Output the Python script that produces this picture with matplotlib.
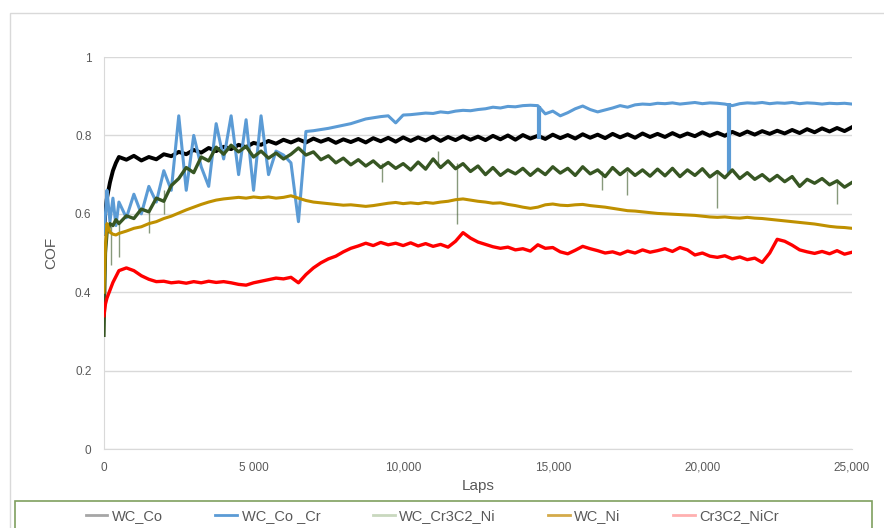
import matplotlib.pyplot as plt
from matplotlib.lines import Line2D
from matplotlib.patches import Rectangle

# sampling grid (laps), finer at the very start
laps = [0, 50, 100, 150, 200, 300, 400] + list(range(500, 25001, 250))

wc_co = [0.55, 0.61, 0.64, 0.66, 0.68, 0.71, 0.73,
         0.745, 0.738, 0.748, 0.736, 0.745, 0.739, 0.752, 0.747,
         0.758, 0.752, 0.763, 0.756, 0.768, 0.760, 0.771, 0.765,
         0.776, 0.770, 0.781, 0.776, 0.786, 0.779, 0.789, 0.782,
         0.790, 0.782, 0.792, 0.784, 0.791, 0.781, 0.790, 0.783,
         0.791, 0.782, 0.793, 0.785, 0.794, 0.784, 0.795, 0.786,
         0.795, 0.787, 0.797, 0.786, 0.796, 0.788, 0.798, 0.789,
         0.797, 0.788, 0.799, 0.790, 0.800, 0.789, 0.801, 0.792,
         0.799, 0.791, 0.802, 0.793, 0.801, 0.792, 0.803, 0.794,
         0.802, 0.793, 0.804, 0.795, 0.803, 0.794, 0.805, 0.796,
         0.804, 0.796, 0.806, 0.797, 0.805, 0.798, 0.808, 0.799,
         0.807, 0.799, 0.809, 0.801, 0.810, 0.802, 0.811, 0.804,
         0.812, 0.805, 0.814, 0.806, 0.816, 0.808, 0.818, 0.810,
         0.819, 0.811, 0.821]

wc_co_cr = [0.55, 0.60, 0.66, 0.62, 0.58, 0.64, 0.57,
            0.63, 0.59, 0.65, 0.60, 0.67, 0.63, 0.71, 0.66,
            0.85, 0.66, 0.80, 0.72, 0.67, 0.83, 0.74, 0.85,
            0.70, 0.84, 0.66, 0.85, 0.70, 0.76, 0.75, 0.73,
            0.58, 0.810, 0.812, 0.815, 0.818, 0.822, 0.826, 0.830,
            0.836, 0.842, 0.845, 0.848, 0.850, 0.832, 0.852, 0.853,
            0.855, 0.857, 0.856, 0.860, 0.858, 0.862, 0.864, 0.863,
            0.866, 0.868, 0.872, 0.870, 0.874, 0.873, 0.876, 0.877,
            0.876, 0.855, 0.862, 0.850, 0.858, 0.868, 0.875, 0.866,
            0.860, 0.865, 0.870, 0.876, 0.872, 0.878, 0.880, 0.879,
            0.882, 0.881, 0.883, 0.880, 0.882, 0.884, 0.881, 0.883,
            0.882, 0.880, 0.876, 0.881, 0.883, 0.882, 0.884, 0.881,
            0.883, 0.882, 0.884, 0.881, 0.883, 0.882, 0.880, 0.882,
            0.881, 0.882, 0.880]

wc_cr3c2_ni = [0.29, 0.50, 0.55, 0.56, 0.575, 0.57, 0.585,
               0.575, 0.595, 0.588, 0.612, 0.605, 0.640, 0.632, 0.672,
               0.690, 0.718, 0.705, 0.745, 0.735, 0.770, 0.752, 0.775,
               0.758, 0.772, 0.745, 0.760, 0.742, 0.755, 0.740, 0.752,
               0.768, 0.750, 0.758, 0.738, 0.748, 0.730, 0.742, 0.725,
               0.738, 0.722, 0.735, 0.718, 0.731, 0.716, 0.728, 0.712,
               0.732, 0.714, 0.740, 0.718, 0.735, 0.715, 0.728, 0.708,
               0.722, 0.700, 0.718, 0.698, 0.712, 0.702, 0.716, 0.698,
               0.714, 0.700, 0.720, 0.704, 0.716, 0.698, 0.720, 0.702,
               0.712, 0.695, 0.718, 0.700, 0.715, 0.698, 0.712, 0.696,
               0.714, 0.697, 0.716, 0.695, 0.712, 0.698, 0.715, 0.694,
               0.708, 0.692, 0.712, 0.690, 0.705, 0.688, 0.700, 0.684,
               0.698, 0.682, 0.695, 0.670, 0.688, 0.678, 0.690, 0.674,
               0.684, 0.668, 0.680]

wc_ni = [0.40, 0.52, 0.575, 0.565, 0.553, 0.548, 0.546,
         0.550, 0.556, 0.563, 0.567, 0.575, 0.580, 0.588, 0.594,
         0.602, 0.610, 0.617, 0.624, 0.630, 0.635, 0.638, 0.640,
         0.642, 0.640, 0.643, 0.641, 0.643, 0.640, 0.642, 0.646,
         0.640, 0.634, 0.630, 0.628, 0.626, 0.624, 0.622, 0.623,
         0.621, 0.619, 0.621, 0.624, 0.627, 0.629, 0.626, 0.628,
         0.626, 0.629, 0.627, 0.630, 0.632, 0.636, 0.638, 0.635,
         0.632, 0.630, 0.627, 0.628, 0.624, 0.621, 0.617, 0.614,
         0.617, 0.623, 0.625, 0.622, 0.621, 0.623, 0.624, 0.621,
         0.619, 0.617, 0.614, 0.611, 0.608, 0.607, 0.605, 0.603,
         0.601, 0.600, 0.599, 0.598, 0.597, 0.596, 0.594, 0.592,
         0.591, 0.592, 0.590, 0.589, 0.591, 0.589, 0.588, 0.586,
         0.584, 0.582, 0.580, 0.578, 0.576, 0.574, 0.571, 0.568,
         0.566, 0.565, 0.563]

cr3c2_nicr = [0.34, 0.37, 0.385, 0.395, 0.405, 0.425, 0.44,
              0.455, 0.462, 0.455, 0.442, 0.433, 0.427, 0.428, 0.424,
              0.426, 0.423, 0.427, 0.424, 0.428, 0.425, 0.427, 0.424,
              0.420, 0.418, 0.424, 0.428, 0.432, 0.436, 0.434, 0.438,
              0.424, 0.445, 0.462, 0.475, 0.485, 0.492, 0.503, 0.512,
              0.518, 0.525, 0.519, 0.527, 0.521, 0.525, 0.519, 0.526,
              0.518, 0.524, 0.517, 0.522, 0.515, 0.530, 0.552, 0.538,
              0.528, 0.522, 0.516, 0.512, 0.515, 0.508, 0.511, 0.505,
              0.521, 0.512, 0.514, 0.503, 0.498, 0.507, 0.517, 0.511,
              0.506, 0.500, 0.503, 0.497, 0.505, 0.500, 0.508, 0.502,
              0.506, 0.511, 0.504, 0.514, 0.508, 0.495, 0.500, 0.492,
              0.489, 0.493, 0.485, 0.490, 0.483, 0.487, 0.476, 0.500,
              0.535, 0.530, 0.520, 0.508, 0.503, 0.499, 0.504, 0.498,
              0.506, 0.497, 0.502]

# short dips of WC_Co _Cr
cocr_dip_laps = [14540, 20900]
cocr_dip_low = [0.79, 0.705]
cocr_dip_high = [0.876, 0.882]

# thin spikes of WC_Cr3C2_Ni
ni_spike_laps = [250, 500, 1500, 2000, 9300, 11170, 11800, 16650, 17470, 20480, 24500]
ni_spike_low = [0.47, 0.49, 0.55, 0.60, 0.68, 0.72, 0.575, 0.66, 0.648, 0.615, 0.625]
ni_spike_high = [0.57, 0.58, 0.61, 0.66, 0.73, 0.76, 0.73, 0.71, 0.71, 0.71, 0.69]

names = ["WC_Co", "WC_Co _Cr", "WC_Cr3C2_Ni", "WC_Ni", "Cr3C2_NiCr"]
colors = ["#000000", "#5B9BD5", "#375623", "#BF9000", "#FF0000"]
legend_colors = ["#A6A6A6", "#5B9BD5", "#C9D8BE", "#D4AA4A", "#FFB0B0"]
widths = [2.8, 2.2, 2.4, 2.2, 2.4]

x_ticks = [0, 5000, 10000, 15000, 20000, 25000]
x_tick_labels = ["0", "5 000", "10,000", "15,000", "20,000", "25,000"]
y_ticks = [0, 0.2, 0.4, 0.6, 0.8, 1]
y_tick_labels = ["0", "0.2", "0.4", "0.6", "0.8", "1"]

text_color = "#595959"
plt.rcParams['font.family'] = ['Liberation Sans', 'DejaVu Sans']

fig = plt.figure(figsize=(8.84, 5.28), dpi=100)
ax = fig.add_axes([0.1176, 0.1496, 0.8462, 0.7424])

all_series = [wc_co, wc_co_cr, wc_cr3c2_ni, wc_ni, cr3c2_nicr]
for i, ys in enumerate(all_series):
    ax.plot(laps, ys, color=colors[i], lw=widths[i], zorder=3 + i)
    if i == 1:
        ax.vlines(cocr_dip_laps, cocr_dip_low, cocr_dip_high, color=colors[1], lw=3, zorder=3 + i)
    if i == 2:
        ax.vlines(ni_spike_laps, ni_spike_low, ni_spike_high, color=colors[2], lw=1, alpha=0.6, zorder=3 + i)

ax.set_xlim(0, 25000)
ax.set_ylim(0, 1)
ax.set_xticks(x_ticks)
ax.set_xticklabels(x_tick_labels)
ax.set_yticks(y_ticks)
ax.set_yticklabels(y_tick_labels)
ax.tick_params(length=0, labelsize=8.5, labelcolor=text_color, pad=9)
ax.grid(axis='y', color='#D9D9D9', lw=1)
ax.set_axisbelow(True)
for side in ['top', 'right']:
    ax.spines[side].set_visible(False)
ax.spines['left'].set_color('#D9D9D9')
ax.spines['bottom'].set_color('#D9D9D9')
ax.set_xlabel("Laps", fontsize=11, color=text_color, labelpad=4)
ax.set_ylabel("COF", fontsize=11, color=text_color, labelpad=12)

# outer chart frame and legend frame
fig.patches.append(Rectangle((0.0113, -0.05), 1.1, 1.0254, transform=fig.transFigure,
                             fill=False, edgecolor='#D9D9D9', lw=1))
fig.patches.append(Rectangle((0.017, -0.05), 0.969, 0.101, transform=fig.transFigure,
                             fill=False, edgecolor='#7F9F5F', lw=1.2))

handles = [Line2D([0], [0], color=c, lw=2) for c in legend_colors]
fig.legend(handles, names, loc='center', bbox_to_anchor=(0.489, 0.022), ncol=5,
           frameon=False, fontsize=10.5, handlelength=1.5, handletextpad=0.3,
           columnspacing=3.6, labelcolor=text_color)

fig.savefig("out.png", dpi=100)
